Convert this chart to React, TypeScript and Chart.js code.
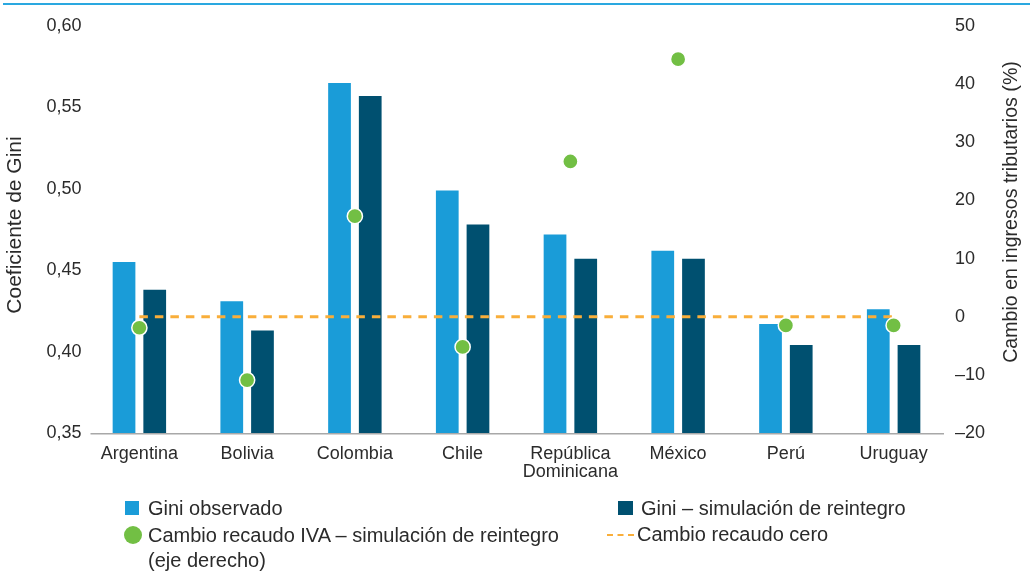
import React, { useEffect, useRef } from 'react';
import { Chart, registerables } from 'chart.js';

Chart.register(...registerables);

const categories: (string | string[])[] = [
  'Argentina',
  'Bolivia',
  'Colombia',
  'Chile',
  ['República', 'Dominicana'],
  'México',
  'Perú',
  'Uruguay',
];
const giniObservado = [0.455, 0.431, 0.565, 0.499, 0.472, 0.462, 0.417, 0.426];
const giniSimulacion = [0.438, 0.413, 0.557, 0.478, 0.457, 0.457, 0.404, 0.404];
const cambioRecaudoIVA = [-1.9, -10.9, 17.3, -5.2, 26.7, 44.3, -1.5, -1.5];
const cambioRecaudoCero = [0, 0, 0, 0, 0, 0, 0, 0];

const leftAxisTitle = 'Coeficiente de Gini';
const rightAxisTitle = 'Cambio en ingresos tributarios (%)';
const legendLabels = [
  'Gini observado',
  'Gini – simulación de reintegro',
  'Cambio recaudo IVA – simulación de reintegro',
  '(eje derecho)',
  'Cambio recaudo cero',
];

const FONT = '"Liberation Sans", Arial, Helvetica, sans-serif';
const LIGHT = '#1A9CD8';
const DARK = '#005070';
const GREEN = '#72BF44';
const ORANGE = '#F9AE3A';
const TEXT = '#2B2B2B';

export default function App() {
  const ref = useRef<HTMLCanvasElement>(null);

  useEffect(() => {
    if (!ref.current) return;
    const overlay = {
      id: 'overlay',
      beforeDatasetsDraw(chart: any) {
        const ctx = chart.ctx;
        const ca = chart.chartArea;
        const y0 = chart.scales.y.getPixelForValue(0.35);
        ctx.save();
        ctx.strokeStyle = '#A8A8A8';
        ctx.lineWidth = 1.6;
        ctx.beginPath();
        ctx.moveTo(ca.left + 5, y0 + 0.8);
        ctx.lineTo(ca.right - 3.5, y0 + 0.8);
        ctx.stroke();
        ctx.restore();
      },
      afterDraw(chart: any) {
        const ctx = chart.ctx;
        ctx.save();
        ctx.fillStyle = TEXT;
        ctx.textAlign = 'center';
        ctx.textBaseline = 'middle';
        ctx.font = `21px ${FONT}`;
        ctx.translate(15, 225);
        ctx.rotate(-Math.PI / 2);
        ctx.fillText(leftAxisTitle, 0, 0);
        ctx.restore();
        ctx.save();
        ctx.fillStyle = TEXT;
        ctx.textAlign = 'center';
        ctx.textBaseline = 'middle';
        ctx.font = `19.6px ${FONT}`;
        ctx.translate(1012, 212);
        ctx.rotate(-Math.PI / 2);
        ctx.fillText(rightAxisTitle, 0, 0);
        ctx.restore();
      },
    };

    const chart = new Chart(ref.current, {
      type: 'bar',
      data: {
        labels: categories as any,
        datasets: [
          {
            type: 'line',
            label: legendLabels[2],
            data: cambioRecaudoIVA,
            yAxisID: 'y1',
            showLine: false,
            pointRadius: 7.6,
            pointBackgroundColor: GREEN,
            pointBorderColor: '#FFFFFF',
            pointBorderWidth: 1.5,
            order: 0,
          } as any,
          {
            type: 'line',
            label: legendLabels[4],
            data: cambioRecaudoCero,
            yAxisID: 'y1',
            borderColor: ORANGE,
            borderWidth: 3,
            borderDash: [8.5, 7],
            pointRadius: 0,
            fill: false,
            order: 1,
          } as any,
          {
            label: legendLabels[0],
            data: giniObservado,
            backgroundColor: LIGHT,
            yAxisID: 'y',
            categoryPercentage: 0.57,
            barPercentage: 0.74,
            order: 2,
          },
          {
            label: legendLabels[1],
            data: giniSimulacion,
            backgroundColor: DARK,
            yAxisID: 'y',
            categoryPercentage: 0.57,
            barPercentage: 0.74,
            order: 2,
          },
        ],
      },
      options: {
        responsive: false,
        animation: false,
        devicePixelRatio: 1,
        layout: { padding: { top: 26, left: 0, right: 0, bottom: 0 } },
        plugins: {
          legend: { display: false },
          tooltip: { enabled: false },
        },
        scales: {
          x: {
            grid: { display: false, drawTicks: false },
            border: { display: false },
            ticks: {
              color: TEXT,
              font: { family: FONT, size: 18, lineHeight: 1.02 },
              padding: 11.6,
              maxRotation: 0,
              autoSkip: false,
            },
            afterFit(s: any) {
              s.height = 575 - 433;
            },
          },
          y: {
            position: 'left',
            min: 0.35,
            max: 0.6,
            grid: { display: false, drawTicks: false },
            border: { display: false },
            ticks: {
              stepSize: 0.05,
              color: TEXT,
              font: { family: FONT, size: 18 },
              padding: 4,
              callback: (v: any) => Number(v).toFixed(2).replace('.', ','),
            },
            afterFit(s: any) {
              s.width = 85.5;
            },
          },
          y1: {
            position: 'right',
            min: -20,
            max: 50,
            grid: { display: false, drawTicks: false },
            border: { display: false },
            ticks: {
              stepSize: 10,
              color: TEXT,
              font: { family: FONT, size: 18 },
              padding: 7.5,
              callback: (v: any) => (Number(v) < 0 ? '–' + Math.abs(Number(v)) : String(v)),
            },
            afterFit(s: any) {
              s.width = 85.5;
            },
          },
        },
      },
      plugins: [overlay],
    } as any);
    return () => chart.destroy();
  }, []);

  const textStyle: React.CSSProperties = {
    position: 'absolute',
    fontFamily: FONT,
    fontSize: 20,
    color: TEXT,
    lineHeight: '26px',
    whiteSpace: 'nowrap',
  };

  return (
    <div style={{ position: 'fixed', left: 0, top: 0, width: 1033, height: 575, background: '#fff' }}>
      <div style={{ position: 'absolute', left: 3, top: 3, width: 1027, height: 2, background: '#2AA8E0' }} />
      <canvas ref={ref} width={1033} height={575} style={{ position: 'absolute', left: 0, top: 0 }} />
      {/* legend */}
      <div style={{ position: 'absolute', left: 125, top: 501, width: 14, height: 14, background: LIGHT }} />
      <div style={{ ...textStyle, left: 148, top: 495 }}>{legendLabels[0]}</div>
      <div
        style={{
          position: 'absolute',
          left: 123.5,
          top: 526,
          width: 18,
          height: 18,
          borderRadius: '50%',
          background: GREEN,
        }}
      />
      <div style={{ ...textStyle, left: 148, top: 522 }}>{legendLabels[2]}</div>
      <div style={{ ...textStyle, left: 148, top: 547 }}>{legendLabels[3]}</div>
      <div style={{ position: 'absolute', left: 618, top: 501, width: 15, height: 14, background: DARK }} />
      <div style={{ ...textStyle, left: 641, top: 495 }}>{legendLabels[1]}</div>
      <div
        style={{
          position: 'absolute',
          left: 607,
          top: 533.5,
          width: 27,
          height: 0,
          borderTop: `2px dashed ${ORANGE}`,
        }}
      />
      <div style={{ ...textStyle, left: 637, top: 521 }}>{legendLabels[4]}</div>
    </div>
  );
}
